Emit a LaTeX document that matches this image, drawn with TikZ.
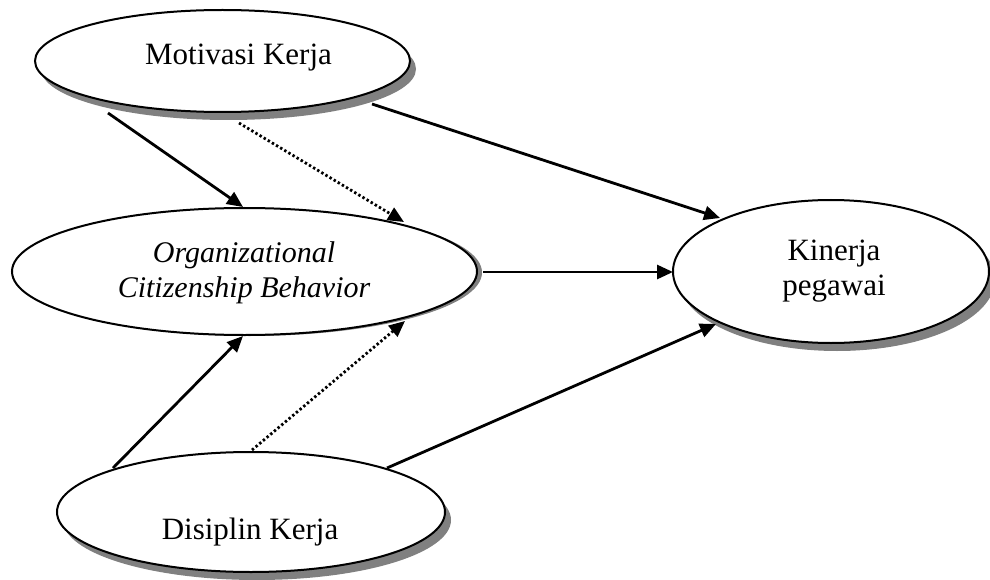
\documentclass[tikz,border=0pt]{standalone}
\usepackage{fontspec}
\setmainfont{Liberation Serif}
\usetikzlibrary{shapes.geometric,shadows,arrows.meta,calc}
\begin{document}
\begin{tikzpicture}[x=1pt,y=-1pt,
  ell/.style={ellipse,draw=black,line width=2pt,fill=white,inner sep=0pt,outer sep=0pt},
  shd/.style={drop shadow={shadow xshift=6pt,shadow yshift=-8pt,fill=gray,draw=none,opacity=1}},
  shdsmall/.style={drop shadow={shadow xshift=5pt,shadow yshift=-1pt,fill=gray,draw=none,opacity=1}},
  txt/.style={font=\fontsize{31}{35}\selectfont,inner sep=0pt,align=center},
  arr/.style={line width=2.8pt,-{Triangle[length=16pt,width=14pt]}},
  dottedarrow/.style={arr,dash pattern=on 2.4pt off 2.4pt}]
\useasboundingbox (0,0) rectangle (990,580);
% ellipses
\node[ell,shd,minimum width=375pt,minimum height=102pt] (mk) at (222.5,61) {};
\node[ell,shdsmall,minimum width=465pt,minimum height=127pt] (ocb) at (244.5,271.5) {};
\node[ell,shd,minimum width=316pt,minimum height=143pt] (kp) at (831,271.5) {};
\node[ell,shd,minimum width=388pt,minimum height=120pt] (dk) at (251,512) {};
% texts
\node[txt,anchor=base] (mkt) at (238.5,65) {Motivasi Kerja};
\node[txt,font=\fontsize{30}{34.5}\selectfont\itshape] (ocbt) at (244,273) {Organizational\\Citizenship Behavior};
\node[txt] (kpt) at (834,271) {Kinerja\\pegawai};
\node[txt,anchor=base] (dkt) at (250,539) {Disiplin Kerja};
% connectors
\draw[arr] ($(mk.center)+(-114.5,52)$) -- ($(ocb.center)+(-1.5,-64.5)$);
\draw[dottedarrow] ($(mk.center)+(16.5,62)$) -- ($(ocb.center)+(159.5,-49.5)$);
\draw[arr] ($(mk.center)+(149.5,43)$) -- ($(kp.center)+(-111,-53.5)$);
\draw[arr] ($(ocb.center)+(238.5,0.5)$) -- ($(kp.center)+(-158,0.5)$);
\draw[arr] ($(dk.center)+(-138,-44)$) -- ($(ocb.center)+(-1.5,64.5)$);
\draw[dottedarrow] ($(dk.center)+(1,-62)$) -- ($(ocb.center)+(160.5,49.5)$);
\draw[arr] ($(dk.center)+(136,-44)$) -- ($(kp.center)+(-115,52.5)$);
\end{tikzpicture}
\end{document}
